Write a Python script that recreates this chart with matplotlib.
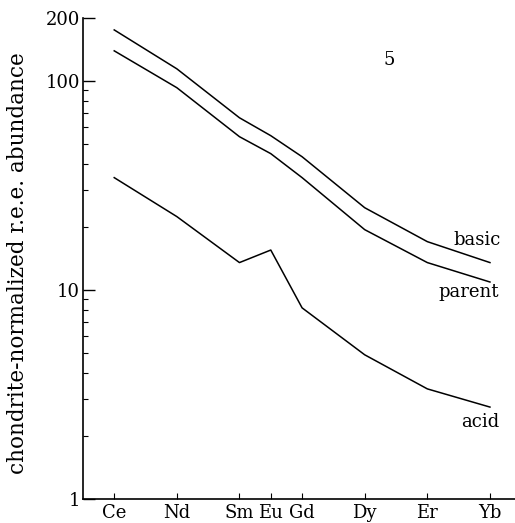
import numpy as np
import matplotlib.pyplot as plt
from matplotlib.ticker import FixedLocator, NullFormatter

# elementos (número atómico) y abundancias normalizadas a condrito
elementos = ['Ce', 'Nd', 'Sm', 'Eu', 'Gd', 'Dy', 'Er', 'Yb']
z = [58, 60, 62, 63, 64, 66, 68, 70]

basic = [175, 114, 66.5, 54.6, 43.3, 24.7, 17.0, 13.5]
parent = [139, 92.6, 54, 44.8, 34.4, 19.4, 13.5, 10.9]
acid = [34.4, 22.4, 13.5, 15.5, 8.2, 4.89, 3.36, 2.75]

plt.rcParams['font.family'] = 'DejaVu Serif'

fig = plt.figure(figsize=(5.15, 5.23), dpi=100)
ax = fig.add_axes([0.161, 0.046, 0.839, 0.92])

for serie in (basic, parent, acid):
    ax.plot(z, serie, color='black', lw=1.1)

ax.set_yscale('log')
ax.set_ylim(1, 200)
ax.set_xlim(57, 70.8)

ax.yaxis.set_major_locator(FixedLocator([1, 10, 100, 200]))
ax.set_yticklabels(['1', '10', '100', '200'])
menores = [m * d for d in (1, 10) for m in range(2, 10)]
ax.yaxis.set_minor_locator(FixedLocator(menores))
ax.yaxis.set_minor_formatter(NullFormatter())

ax.set_xticks(z)
ax.set_xticklabels(elementos)

ax.tick_params(axis='y', which='major', direction='in', length=8.5, width=1,
               labelsize=13, pad=2)
ax.tick_params(axis='y', which='minor', direction='in', length=3.6, width=0.8)
ax.tick_params(axis='x', which='major', direction='in', length=4.5, width=0.8,
               labelsize=13, pad=4)

ax.spines['top'].set_visible(False)
ax.spines['right'].set_visible(False)
ax.spines['left'].set_linewidth(1.2)
ax.spines['bottom'].set_linewidth(1.2)

ax.set_ylabel('chondrite-normalized r.e.e. abundance', fontsize=15.5, labelpad=2)
ax.yaxis.set_label_coords(-0.125, 0.49)

ax.text(66.77, 126, '5', fontsize=13, ha='center', va='center')
ax.text(70.34, 17.4, 'basic', fontsize=13, ha='right', va='center')
ax.text(70.3, 9.8, 'parent', fontsize=13, ha='right', va='center')
ax.text(70.3, 2.34, 'acid', fontsize=13, ha='right', va='center')

fig.savefig('out.png', dpi=100)
